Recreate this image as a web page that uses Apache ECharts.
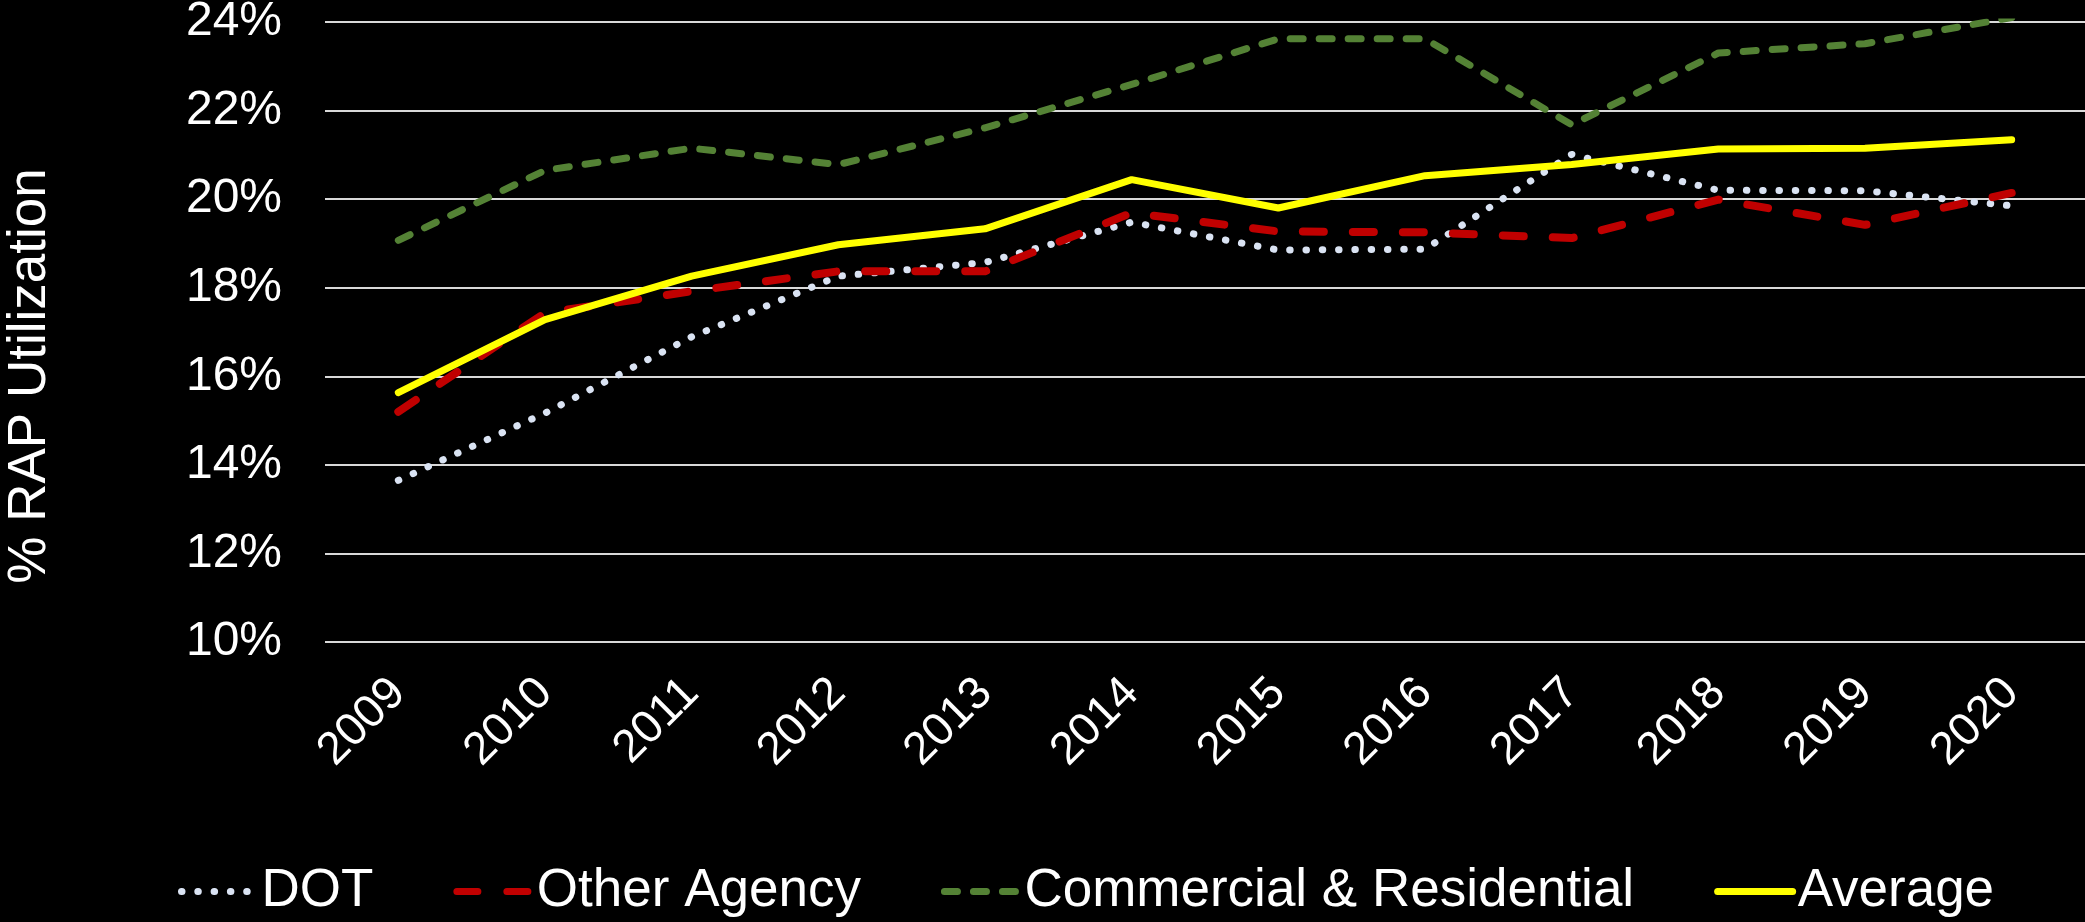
<!DOCTYPE html>
<html>
<head>
<meta charset="utf-8">
<script src="https://cdn.jsdelivr.net/npm/echarts@6/dist/echarts.min.js"></script>
<style>
  html, body { margin: 0; padding: 0; background: #000; }
  #chart { width: 2085px; height: 922px; }
</style>
</head>
<body>
<div id="chart"></div>
<script>
// data (percent)
const years = ['2009', '2010', '2011', '2012', '2013', '2014', '2015', '2016', '2017', '2018', '2019', '2020']
const dot = [13.65, 15.17, 16.89, 18.26, 18.57, 19.48, 18.85, 18.87, 21.01, 20.2, 20.19, 19.85]
const otherAgency = [15.2, 17.43, 17.92, 18.37, 18.37, 19.69, 19.27, 19.25, 19.12, 19.99, 19.42, 20.14]
const commercial = [19.07, 20.65, 21.15, 20.78, 21.61, 22.59, 23.62, 23.62, 21.68, 23.3, 23.51, 24.1]
const average = [15.63, 17.28, 18.26, 18.97, 19.33, 20.44, 19.8, 20.53, 20.78, 21.13, 21.15, 21.34]
const yTicks = [10, 12, 14, 16, 18, 20, 22, 24]

const font = '"Liberation Sans", Arial, sans-serif'
const chart = echarts.init(document.getElementById('chart'))

function lineSeries(name, data, color, width, dash) {
  return {
    name: name,
    type: 'line',
    data: data,
    symbol: 'none',
    clip: true,
    lineStyle: {
      color: color,
      width: width,
      type: dash,
      cap: 'round',
      join: 'round'
    },
    itemStyle: { color: color }
  }
}

chart.setOption({
  backgroundColor: '#000',
  animation: false,
  grid: {
    left: 325,
    right: 0,
    top: 22,
    bottom: 280,
    containLabel: false,
    outerBoundsMode: 'none'
  },
  legend: {
    top: 865,
    left: 178,
    padding: 0,
    itemWidth: 75,
    itemHeight: 14,
    itemGap: 80,
    itemStyle: { opacity: 0 },
    lineStyle: { width: 7 },
    textStyle: { color: '#fff', fontSize: 53, fontFamily: font },
    data: ['DOT', 'Other Agency', 'Commercial & Residential', 'Average']
  },
  xAxis: {
    type: 'category',
    data: years,
    boundaryGap: true,
    axisLine: { show: false },
    axisTick: { show: false },
    axisLabel: {
      color: '#fff',
      fontSize: 46,
      fontFamily: font,
      rotate: 45,
      margin: 44,
      interval: 0
    }
  },
  yAxis: {
    type: 'value',
    min: yTicks[0],
    max: yTicks[yTicks.length - 1],
    interval: yTicks[1] - yTicks[0],
    axisLine: { show: false },
    axisTick: { show: false },
    axisLabel: {
      color: '#fff',
      fontSize: 48,
      fontFamily: font,
      margin: 43,
      formatter: '{value}%'
    },
    splitLine: {
      lineStyle: { color: '#d9d9d9', width: 2 }
    }
  },
  graphic: [{
    type: 'text',
    x: 30,
    y: 376,
    rotation: Math.PI / 2,
    style: {
      text: '% RAP Utilization',
      fill: '#fff',
      font: '53px ' + font,
      textAlign: 'center',
      textVerticalAlign: 'middle'
    }
  }],
  series: [
    lineSeries('DOT', dot, '#dae3f3', 7, [0.5, 15.8]),
    lineSeries('Other Agency', otherAgency, '#c00000', 8, [21, 29]),
    lineSeries('Commercial & Residential', commercial, '#548235', 7, [13, 16]),
    lineSeries('Average', average, '#ffff00', 7, 'solid')
  ]
})

window.addEventListener('resize', () => {
  chart.resize()
})
</script>
</body>
</html>
